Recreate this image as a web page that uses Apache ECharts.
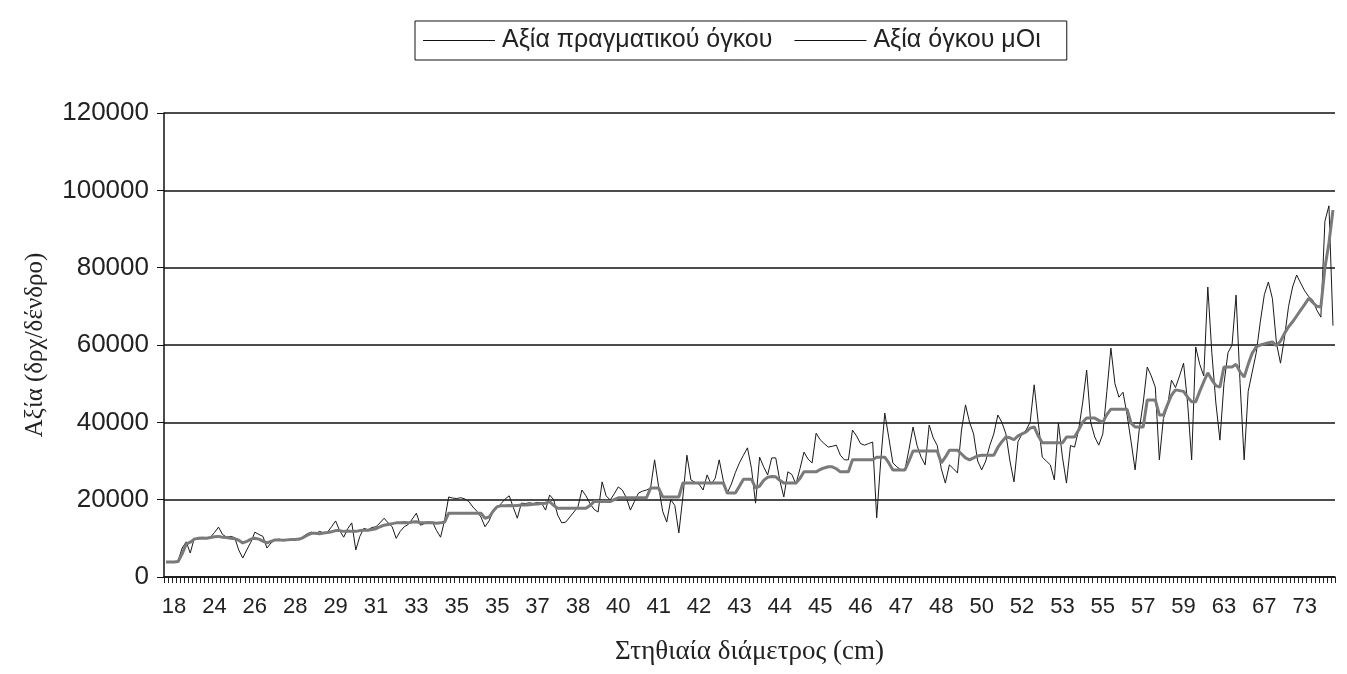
<!DOCTYPE html>
<html>
<head>
<meta charset="utf-8">
<script src="https://cdn.jsdelivr.net/npm/echarts@6/dist/echarts.min.js"></script>
<style>
  html, body { margin: 0; padding: 0; background: #fff; }
  #chart { width: 1347px; height: 674px; }
</style>
</head>
<body>
<div id="chart"></div>
<script>
// διάμετροι (cm) - μία κατηγορία ανά δένδρο
const diameters = [
  18,18,18,19,20,21,21,22,22,23,
  23,24,24,24,25,25,25,25,26,26,
  26,26,26,26,27,27,27,27,27,28,
  28,28,28,28,28,28,28,29,29,29,
  29,29,29,29,30,30,30,30,30,30,
  31,31,31,31,31,32,32,32,32,32,
  33,33,33,33,33,34,34,34,34,34,
  35,35,35,35,35,35,35,35,35,35,
  35,35,35,35,36,36,36,36,36,36,
  37,37,37,37,37,37,37,37,38,38,
  38,38,38,38,38,39,39,39,39,39,
  39,40,40,40,40,40,40,40,41,41,
  41,41,41,41,41,41,41,42,42,42,
  42,42,42,42,42,42,42,43,43,43,
  43,43,43,43,43,43,44,44,44,44,
  44,44,44,44,44,44,45,45,45,45,
  45,45,45,45,45,46,46,46,46,46,
  46,46,46,46,46,46,47,47,47,47,
  47,47,47,47,47,48,48,48,48,48,
  48,48,48,48,49,49,49,49,49,49,
  50,50,50,50,50,51,51,51,51,51,
  52,52,52,52,52,52,52,53,53,53,
  53,53,53,53,54,54,54,54,54,55,
  55,55,55,55,55,56,56,56,56,56,
  57,57,57,57,57,58,58,58,58,59,
  59,59,59,59,60,60,61,61,61,62,
  62,63,63,63,64,64,65,65,66,66,
  66,67,67,67,68,69,69,70,71,71,
  72,73,73,73,74,75,76,77,78,80
];

// Αξία πραγματικού όγκου
const actualValue = [
  3900,3900,3800,4200,7500,9100,6200,10000,9800,10200,
  9900,10300,11500,12900,11000,10300,10500,10200,7000,4900,
  7000,9000,11600,11000,10500,7500,8800,9600,9800,9400,
  9700,9500,9900,9600,10500,11200,11600,11200,11800,11400,
  11600,13000,14500,12000,10300,12500,14000,7000,10500,12600,
  12200,12800,13000,14000,15200,14000,13000,10000,11800,13000,
  13600,15000,16500,13400,13800,14000,14200,12000,10300,14700,
  20700,20400,20300,20500,20200,19500,18100,17000,15500,13000,
  14500,17000,17800,19000,20200,21000,18000,15200,19100,19000,
  19200,19000,19300,19100,17300,21200,20000,16000,14000,14200,
  15500,16800,18100,22500,21000,19000,17500,16800,24600,21000,
  19900,21500,23300,22500,20500,17300,19500,21700,22200,22500,
  23000,30300,23300,17000,14200,20000,18500,11400,20700,31500,
  25100,24500,24000,22500,26400,24000,25500,30300,25000,21700,
  24000,27000,29500,31500,33400,28000,19100,31000,28500,26400,
  30800,30800,25000,20700,27200,26500,24000,28000,32300,30500,
  29500,37200,35500,34500,33600,33800,34100,31500,30300,30300,
  38000,36500,34500,34100,34500,34900,15300,30000,42400,36000,
  29500,28500,27700,27700,33000,38800,34000,31000,29000,39300,
  36000,34000,28000,24300,29000,28000,26900,38000,44500,40000,
  37000,30000,27700,30000,34000,37000,41900,40000,37000,30000,
  24600,35000,37000,38000,40000,49700,40000,31000,30000,29000,
  25100,39800,31000,24300,34000,33600,38000,45000,53500,40000,
  36200,34100,37000,48000,59200,50000,46500,47800,42000,35000,
  27700,38000,45000,54300,52000,49100,30300,41000,44000,50900,
  49000,52000,55300,45000,30300,59500,55000,52000,75000,58000,
  45000,35400,50000,58000,60000,72900,50000,30300,48000,53000,
  58000,66000,73000,76300,72000,60500,55300,62000,70000,75000,
  78100,76000,74000,72500,71600,69000,67200,92000,96000,65000
];

// Αξία όγκου μΟι
const modelValue = [
  3900,3900,3900,4000,6000,8500,9000,9800,10000,10100,
  10000,10200,10400,10500,10300,10200,10000,9900,9500,8800,
  9200,9800,10000,9800,9300,8800,9200,9600,9600,9500,
  9600,9700,9700,9800,10200,10800,11300,11300,11200,11400,
  11500,11700,12000,12000,11800,11900,11800,11800,12000,12100,
  12100,12300,12500,13000,13400,13600,13800,14000,14000,14100,
  14000,14200,14300,14000,14000,14100,14000,13900,14000,14200,
  16500,16500,16500,16500,16500,16500,16500,16500,16500,15200,
  15500,17000,18200,18400,18400,18500,18400,18500,18600,18600,
  18700,18800,18900,19000,19100,19500,18500,17800,17800,17800,
  17800,17800,17800,17800,17800,18500,19500,19500,19500,19500,
  19500,20000,20500,20500,20500,20500,20500,20500,20500,20500,
  23000,23000,23000,20700,20700,20700,20700,20700,24300,24300,
  24300,24300,24300,24300,24300,24300,24300,24300,24300,21700,
  21700,21700,23500,25300,25300,25300,23000,23500,25000,25800,
  26000,25900,25000,24300,24300,24300,24300,25500,27200,27200,
  27200,27200,27800,28200,28500,28500,28000,27200,27200,27200,
  30300,30300,30300,30300,30300,30300,31000,31000,31000,29500,
  27700,27700,27700,27700,30000,32600,32600,32600,32600,32600,
  32600,32600,29500,31000,32800,32800,32800,31800,30800,30300,
  30800,31300,31500,31500,31500,31500,33500,35000,36200,36000,
  35500,36500,37000,37500,38500,38800,36500,34700,34700,34700,
  34700,34700,34700,36200,36200,36200,38000,40000,41100,41100,
  41100,40500,40000,42000,43400,43400,43400,43400,43400,39800,
  38800,38800,38800,45800,45800,45800,41900,41900,44500,47000,
  48400,48200,48000,46500,45300,45300,48000,50500,52800,51000,
  49500,49100,54300,54300,54300,55000,53000,51700,55000,57900,
  59500,60000,60300,60600,60800,59800,61000,63000,64700,66000,
  67500,69000,70500,72100,71000,70000,69800,80000,86400,94900
];

const seriesNames = ['Αξία πραγματικού όγκου', 'Αξία όγκου μΟι'];
const yTicks = [0, 20000, 40000, 60000, 80000, 100000, 120000];

const sans = '"Liberation Sans", Arial, sans-serif';
const serif = '"Liberation Serif", "Times New Roman", serif';

const chart = echarts.init(document.getElementById('chart'));
chart.setOption({
  backgroundColor: '#fff',
  animation: false,
  legend: {
    data: seriesNames.map(n => ({ name: n, itemStyle: { color: '#111' } })),
    left: 415,
    top: 21,
    padding: [7, 26, 7, 8],
    borderColor: '#111',
    borderWidth: 1,
    itemWidth: 72,
    itemHeight: 12,
    itemGap: 22,
    textStyle: { fontFamily: sans, fontSize: 25, color: '#222', padding: [0, 0, 0, 2] },
    icon: 'path://M0,6L70,6L70,7L0,7Z'
  },
  grid: { left: 164, right: 12, top: 113, bottom: 97, outerBoundsMode: 'none' },
  xAxis: {
    type: 'category',
    data: diameters,
    boundaryGap: true,
    name: 'Στηθιαία διάμετρος (cm)',
    nameLocation: 'middle',
    nameGap: 61,
    nameTextStyle: { fontFamily: serif, fontSize: 27, color: '#222' },
    axisLine: { lineStyle: { color: '#111', width: 1.5 } },
    axisTick: { show: true, interval: 0, length: 6, lineStyle: { color: '#222', width: 1 } },
    axisLabel: {
      interval: (index) => index % 10 === 2,
      fontFamily: sans,
      fontSize: 22,
      color: '#222',
      margin: 19
    },
    splitLine: { show: false }
  },
  yAxis: {
    type: 'value',
    min: yTicks[0],
    max: yTicks[yTicks.length - 1],
    interval: 20000,
    name: 'Αξία (δρχ/δένδρο)',
    nameLocation: 'middle',
    nameGap: 116,
    nameTextStyle: { fontFamily: serif, fontSize: 25, color: '#222' },
    axisLine: { show: true, lineStyle: { color: '#111', width: 1.5 } },
    axisTick: { show: true, length: 7, lineStyle: { color: '#111' } },
    axisLabel: {
      fontFamily: sans,
      fontSize: 26,
      color: '#222',
      margin: 15,
      formatter: (v) => String(v)
    },
    splitLine: { show: true, lineStyle: { color: '#111', width: 1.5 } }
  },
  series: [
    {
      name: seriesNames[0],
      type: 'line',
      data: actualValue,
      symbol: 'none',
      lineStyle: { color: '#1a1a1a', width: 1 },
      itemStyle: { color: '#1a1a1a' },
      z: 2
    },
    {
      name: seriesNames[1],
      type: 'line',
      data: modelValue,
      symbol: 'none',
      lineStyle: { color: '#7a7a7a', width: 3 },
      itemStyle: { color: '#7a7a7a' },
      z: 3
    }
  ]
});
</script>
</body>
</html>
